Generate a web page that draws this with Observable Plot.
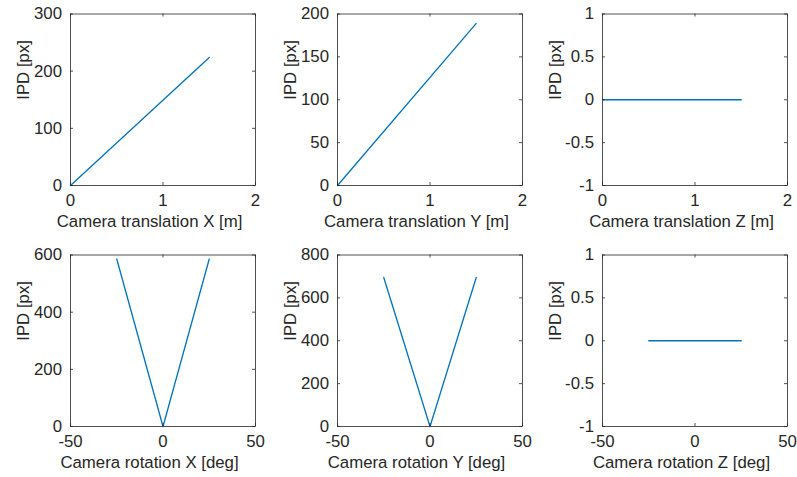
<!DOCTYPE html>
<html><head><meta charset="utf-8">
<script src="https://cdn.jsdelivr.net/npm/d3@7"></script>
<script src="https://cdn.jsdelivr.net/npm/@observablehq/plot@0.6"></script>
<style>
body{margin:0;background:#fff;width:797px;height:477px;overflow:hidden;position:relative}
.p{position:absolute}
</style>
</head><body>
<script>
// ---- data ----
const transX = [0, 1.5];      const ipdTransX = [0, 224];
const transY = [0, 1.5];      const ipdTransY = [0, 189];
const transZ = [0, 1.5];      const ipdTransZ = [0, 0];
const rotX = [-25, 0, 25];    const ipdRotX = [586, 0, 586];
const rotY = [-25, 0, 25];    const ipdRotY = [695, 0, 695];
const rotZ = [-25, 25];       const ipdRotZ = [0, 0];

const transTicks = [0, 1, 2];
const rotTicks = [-50, 0, 50];
const yTicks1 = [0, 100, 200, 300];
const yTicks2 = [0, 50, 100, 150, 200];
const yTicksUnit = [-1, -0.5, 0, 0.5, 1];
const yTicks4 = [0, 200, 400, 600];
const yTicks5 = [0, 200, 400, 600, 800];

const xLabels = ["Camera translation X [m]", "Camera translation Y [m]", "Camera translation Z [m]",
                 "Camera rotation X [deg]", "Camera rotation Y [deg]", "Camera rotation Z [deg]"];
const yLabel = "IPD [px]";

// ---- layout ----
const W = 265, H = 238, ML = 70, MR = 10, MT = 13.5, MB = 53;
const FW = W - ML - MR, FH = H - MT - MB;
const TL = 3;
const FS = 16.8;
const ink = "#262626";
const fmt = d => String(d);

const panels = [
  {xs: transX, ys: ipdTransX, xd: [0, 2], yd: [0, 300], xt: transTicks, yt: yTicks1, lab: xLabels[0], left: 0.3, top: 0},
  {xs: transY, ys: ipdTransY, xd: [0, 2], yd: [0, 200], xt: transTicks, yt: yTicks2, lab: xLabels[1], left: 266.7, top: 0},
  {xs: transZ, ys: ipdTransZ, xd: [0, 2], yd: [-1, 1], xt: transTicks, yt: yTicksUnit, lab: xLabels[2], left: 532, top: 0},
  {xs: rotX, ys: ipdRotX, xd: [-50, 50], yd: [0, 600], xt: rotTicks, yt: yTicks4, lab: xLabels[3], left: 0.3, top: 240.5},
  {xs: rotY, ys: ipdRotY, xd: [-50, 50], yd: [0, 800], xt: rotTicks, yt: yTicks5, lab: xLabels[4], left: 266.7, top: 240.5},
  {xs: rotZ, ys: ipdRotZ, xd: [-50, 50], yd: [-1, 1], xt: rotTicks, yt: yTicksUnit, lab: xLabels[5], left: 532, top: 240.5}
];

for (const p of panels) {
  const data = p.xs.map((x, i) => ({x, y: p.ys[i]}));
  const chart = Plot.plot({
    width: W, height: H,
    marginLeft: ML, marginRight: MR, marginTop: MT, marginBottom: MB,
    style: {fontFamily: "'Liberation Sans', Arial, sans-serif", fontSize: FS + "px", color: ink, background: "transparent", overflow: "visible"},
    x: {domain: p.xd, label: null},
    y: {domain: p.yd, label: null},
    marks: [
      Plot.line(data, {x: "x", y: "y", stroke: "#0072BD", strokeWidth: 1.3}),
      Plot.frame({stroke: ink, strokeWidth: 0.8}),
      Plot.tickX(p.xt, {x: d => d, stroke: ink, strokeWidth: 0.8, insetTop: FH - TL}),
      Plot.tickX(p.xt, {x: d => d, stroke: ink, strokeWidth: 0.8, insetBottom: FH - TL}),
      Plot.tickY(p.yt, {y: d => d, stroke: ink, strokeWidth: 0.8, insetRight: FW - TL}),
      Plot.tickY(p.yt, {y: d => d, stroke: ink, strokeWidth: 0.8, insetLeft: FW - TL}),
      Plot.axisX(p.xt, {anchor: "bottom", tickSize: 0, tickPadding: 8.5, tickFormat: fmt, label: null, fill: ink, fontSize: FS}),
      Plot.axisY(p.yt, {anchor: "left", tickSize: 0, tickPadding: 8.5, tickFormat: fmt, label: null, fill: ink, fontSize: FS}),
      Plot.text([p.lab], {frameAnchor: "bottom", lineAnchor: "top", dx: -13.5, dy: 29.5, text: d => d, fill: ink, fontSize: FS}),
      Plot.text([yLabel], {frameAnchor: "left", rotate: -90, dx: -47, text: d => d, fill: ink, fontSize: FS})
    ]
  });
  const div = document.createElement("div");
  div.className = "p";
  div.style.left = p.left + "px";
  div.style.top = p.top + "px";
  div.appendChild(chart);
  document.body.appendChild(div);
}
</script>
</body></html>
